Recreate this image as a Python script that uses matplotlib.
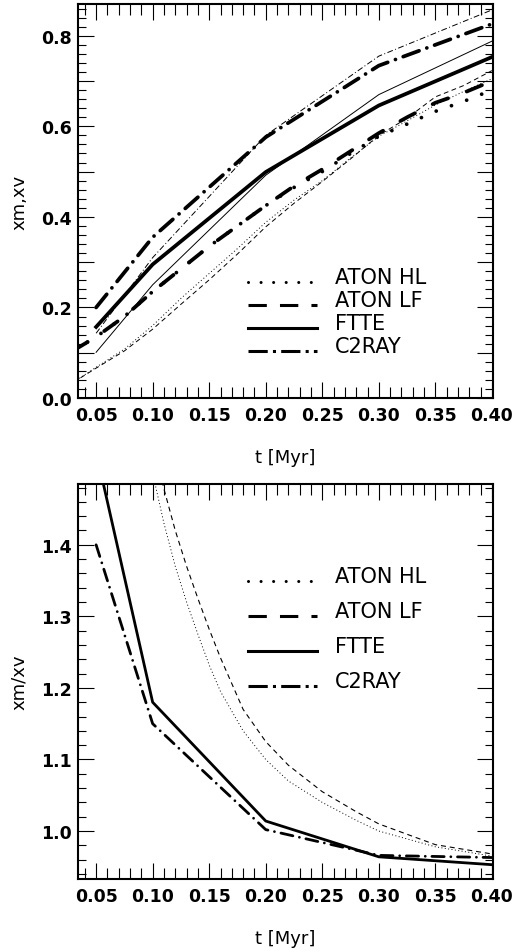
import numpy as np
import matplotlib
matplotlib.use('Agg')
import matplotlib.pyplot as plt
from matplotlib.lines import Line2D
from matplotlib.legend_handler import HandlerLine2D
from matplotlib.ticker import MultipleLocator

# output times of the grid codes
t_out = [0.05, 0.10, 0.20, 0.30, 0.40]
c2ray_xm = [0.200, 0.355, 0.576, 0.734, 0.826]
c2ray_xv = [0.143, 0.310, 0.580, 0.755, 0.857]
ftte_xm = [0.157, 0.295, 0.499, 0.646, 0.753]
ftte_xv = [0.101, 0.250, 0.492, 0.670, 0.788]

# ATON outputs (denser)
t_aton = [0.03, 0.05, 0.075, 0.10, 0.125, 0.15, 0.175, 0.20,
          0.225, 0.25, 0.275, 0.30, 0.325, 0.35, 0.375, 0.40]
hl_xm = [0.105, 0.135, 0.180, 0.235, 0.285, 0.335, 0.380, 0.425,
         0.465, 0.500, 0.540, 0.578, 0.605, 0.633, 0.655, 0.680]
lf_xm = [0.105, 0.135, 0.180, 0.235, 0.285, 0.335, 0.380, 0.425,
         0.468, 0.505, 0.545, 0.585, 0.620, 0.652, 0.674, 0.700]
hl_xv = [0.035, 0.068, 0.108, 0.160, 0.220, 0.275, 0.330, 0.388,
         0.437, 0.480, 0.530, 0.578, 0.612, 0.647, 0.677, 0.705]
lf_xv = [0.035, 0.066, 0.104, 0.152, 0.207, 0.261, 0.318, 0.378,
         0.430, 0.478, 0.528, 0.580, 0.618, 0.665, 0.690, 0.723]

# ratio xm/xv
ftte_ratio = [1.53, 1.18, 1.014, 0.964, 0.953]
c2ray_ratio = [1.40, 1.15, 1.002, 0.966, 0.963]
t_ratio = [0.10, 0.11, 0.12, 0.13, 0.14, 0.15, 0.16, 0.18,
           0.20, 0.22, 0.25, 0.28, 0.30, 0.35, 0.40]
hl_ratio = [1.50, 1.43, 1.37, 1.32, 1.275, 1.232, 1.195, 1.14,
            1.10, 1.07, 1.04, 1.015, 1.00, 0.978, 0.965]
lf_ratio = [1.55, 1.478, 1.42, 1.37, 1.325, 1.282, 1.242, 1.17,
            1.125, 1.092, 1.055, 1.027, 1.01, 0.981, 0.968]

labels = ['ATON HL', 'ATON LF', 'FTTE', 'C2RAY']
xticks = [0.05, 0.10, 0.15, 0.20, 0.25, 0.30, 0.35, 0.40]


class LowLine(HandlerLine2D):
    # legend sample sits near the text baseline, as in the original
    def create_artists(self, legend, orig_handle, xdescent, ydescent,
                       width, height, fontsize, trans):
        arts = super().create_artists(legend, orig_handle, xdescent, ydescent,
                                      width, height, fontsize, trans)
        for a in arts:
            a.set_ydata(np.asarray(a.get_ydata()) - 0.3 * fontsize)
        return arts


fig = plt.figure(figsize=(5.14, 9.53), dpi=100)
ax1 = fig.add_axes([0.1518, 0.5813, 0.8074, 0.4134])
ax2 = fig.add_axes([0.1518, 0.0766, 0.8074, 0.4145])

THICK = 2.7
THIN = 0.7
rnd = dict(dash_capstyle='round', solid_capstyle='butt')

# top panel
ax1.plot(t_aton, hl_xv, 'k', lw=THIN, ls=(0, (1, 2.5)))
ax1.plot(t_aton, lf_xv, 'k', lw=THIN, ls=(0, (5, 3.5)))
ax1.plot(t_out, ftte_xv, 'k', lw=THIN)
ax1.plot(t_out, c2ray_xv, 'k', lw=THIN, ls=(0, (6, 2.5, 1, 2.5)))
ax1.plot(t_aton, hl_xm, 'k', lw=THICK, ls=(0, (0.01, 4.3)), **rnd)
ax1.plot(t_aton, lf_xm, 'k', lw=THICK, ls=(0, (4.4, 5.3)), **rnd)
ax1.plot(t_out, ftte_xm, 'k', lw=THICK)
ax1.plot(t_out, c2ray_xm, 'k', lw=THICK, ls=(0, (4.5, 2.2, 0.01, 2.2)), **rnd)

# bottom panel
BLW = 2.0
ax2.plot(t_ratio, hl_ratio, 'k', lw=THIN, ls=(0, (1, 2.5)))
ax2.plot(t_ratio, lf_ratio, 'k', lw=0.8, ls=(0, (4.5, 3.5)))
ax2.plot(t_out, ftte_ratio, 'k', lw=BLW)
ax2.plot(t_out, c2ray_ratio, 'k', lw=BLW, ls=(0, (4.4, 2.4, 0.01, 2.4)), **rnd)

LLW = 2.2
handles = [Line2D([], [], color='k', lw=LLW, ls=(0, (0.01, 4.1)), dash_capstyle='round'),
           Line2D([], [], color='k', lw=LLW, ls=(0, (6, 4.3))),
           Line2D([], [], color='k', lw=LLW),
           Line2D([], [], color='k', lw=LLW, ls=(0, (6.3, 1.7, 1, 1.7)))]

for ax, ylab, yl, yt, ytl, lspace, ly in [
        (ax1, 'xm,xv', (0.0, 0.87), [0.0, 0.1, 0.2, 0.3, 0.4, 0.5, 0.6, 0.7, 0.8],
         ['0.0', '', '0.2', '', '0.4', '', '0.6', '', '0.8'], 0.14, 0.2195),
        (ax2, 'xm/xv', (0.933, 1.485), [1.0, 1.1, 1.2, 1.3, 1.4],
         ['1.0', '1.1', '1.2', '1.3', '1.4'], 0.72, 0.635)]:
    ax.set_xlim(0.034, 0.401)
    ax.set_ylim(*yl)
    ax.set_xticks(xticks, ['%.2f' % v for v in xticks], fontweight='bold', fontsize=12.5)
    ax.set_yticks(yt, ytl, fontweight='bold', fontsize=12.5)
    ax.xaxis.set_minor_locator(MultipleLocator(0.01))
    ax.yaxis.set_minor_locator(MultipleLocator(0.02))
    ax.tick_params(which='both', direction='in', top=True, right=True, width=0.8, color='k')
    ax.tick_params(axis='x', which='major', length=11.5, pad=5.4)
    ax.tick_params(axis='x', which='minor', length=8)
    ax.tick_params(axis='y', which='major', length=11.5, pad=4.3)
    ax.tick_params(axis='y', which='minor', length=6)
    for s in ax.spines.values():
        s.set_linewidth(1.5)
    ax.set_xlabel('t [Myr]', fontsize=13, labelpad=17.5)
    ax.set_ylabel(ylab, fontsize=13, labelpad=9.5)
    ax.legend(handles, labels, loc='center left', bbox_to_anchor=(0.4096, ly),
              frameon=False, fontsize=15, handlelength=3.3, handletextpad=0.87,
              labelspacing=lspace, borderpad=0, borderaxespad=0,
              handler_map={Line2D: LowLine()})

fig.savefig('out.png', dpi=100)
